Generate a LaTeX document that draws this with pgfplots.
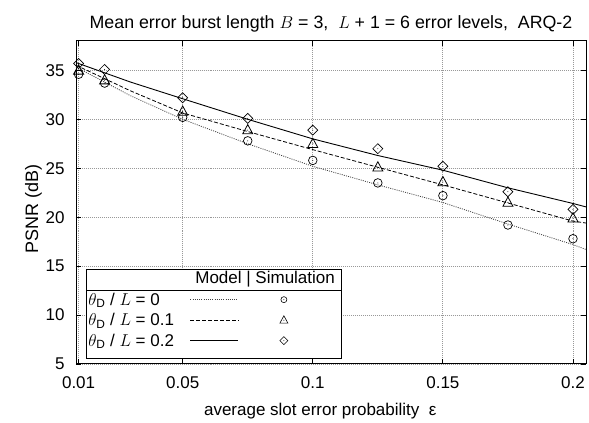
\documentclass[border=0pt]{standalone}
\usepackage{pgfplots}
\pgfplotsset{compat=1.18}
\usepackage{fontspec}
\setmainfont{Liberation Sans}
\usetikzlibrary{plotmarks}

\pgfdeclareplotmark{codot}{%
  \pgfpathcircle{\pgfpointorigin}{\pgfplotmarksize}\pgfusepathqstroke
  \pgfpathcircle{\pgfpointorigin}{0.5pt}\pgfusepathqfill}
\pgfdeclareplotmark{tdot}{%
  \pgfpathmoveto{\pgfqpoint{0pt}{1.1\pgfplotmarksize}}%
  \pgfpathlineto{\pgfqpoint{-1\pgfplotmarksize}{-0.75\pgfplotmarksize}}%
  \pgfpathlineto{\pgfqpoint{1\pgfplotmarksize}{-0.75\pgfplotmarksize}}%
  \pgfpathclose\pgfusepathqstroke
  \pgfpathcircle{\pgfpointorigin}{0.5pt}\pgfusepathqfill}
\pgfdeclareplotmark{ddot}{%
  \pgfpathmoveto{\pgfqpoint{0pt}{\pgfplotmarksize}}%
  \pgfpathlineto{\pgfqpoint{\pgfplotmarksize}{0pt}}%
  \pgfpathlineto{\pgfqpoint{0pt}{-\pgfplotmarksize}}%
  \pgfpathlineto{\pgfqpoint{-\pgfplotmarksize}{0pt}}%
  \pgfpathclose\pgfusepathqstroke
  \pgfpathcircle{\pgfpointorigin}{0.5pt}\pgfusepathqfill}

\newcommand{\dottedsample}{\tikz[baseline=-0.6ex]\draw[black!75, line width=0.8pt, dash pattern=on 1pt off 1.2pt] (0,0) -- (48bp,0);}
\newcommand{\dashedsample}{\tikz[baseline=-0.6ex]\draw[black, line width=0.8pt, dash pattern=on 4pt off 2pt] (0,0) -- (48bp,0);}
\newcommand{\solidsample}{\tikz[baseline=-0.6ex]\draw[black, line width=0.9pt] (0,0) -- (48bp,0);}
\newcommand{\marksample}[2]{\tikz[baseline=-0.6ex]{\pgfsetplotmarksize{#2}\pgfsetlinewidth{0.6pt}\pgfuseplotmark{#1}}}

\begin{document}
\begin{tikzpicture}[font=\fontsize{17bp}{20.5bp}\selectfont]
\begin{axis}[
  name=ax,
  scale only axis,
  width=510bp, height=323bp,
  xmin=0.009, xmax=0.205,
  ymin=5, ymax=38,
  xtick={0.01,0.05,0.1,0.15,0.2},
  xticklabels={0.01,0.05,0.1,0.15,0.2},
  ytick={5,10,15,20,25,30,35},
  /pgf/number format/assume math mode=true,
  tick align=inside,
  major tick length=5bp,
  tick style={black, line width=0.8pt},
  axis line style={line width=1pt},
  grid=major,
  major grid style={gray!80, line width=0.8pt, dash pattern=on 1pt off 1pt},
  xticklabel style={yshift=-9bp},
  yticklabel style={xshift=-8bp},
  xlabel={average slot error probability \ ε},
  ylabel={PSNR (dB)},
  xlabel style={at={(ticklabel cs:0.479)}, yshift=-8bp},
  ylabel style={at={(ticklabel cs:0.48)}, yshift=-3bp, font=\fontsize{18bp}{20bp}\selectfont},
  title={Mean error burst length $B$ = 3,\ \ $L$ + 1 = 6 error levels,\ \ ARQ-2},
  title style={yshift=-1bp, font=\fontsize{17.8bp}{20bp}\selectfont},
  clip=true,
]
% Model curves
\addplot[black!75, line width=0.8pt, dash pattern=on 1pt off 1.2pt] coordinates {
  (0.009,35.3) (0.01,35.2) (0.03,32.4) (0.05,30.0) (0.075,27.5) (0.1,25.2)
  (0.125,23.3) (0.15,21.5) (0.175,19.3) (0.2,17.2) (0.205,16.7)};
\addplot[black, line width=0.8pt, dash pattern=on 4pt off 2pt] coordinates {
  (0.009,35.5) (0.01,35.4) (0.03,32.9) (0.05,30.65) (0.075,28.75) (0.1,26.9)
  (0.125,25.1) (0.15,23.3) (0.175,21.45) (0.2,19.6) (0.205,19.4)};
\addplot[black, line width=0.9pt] coordinates {
  (0.009,35.8) (0.01,35.7) (0.03,33.8) (0.05,32.1) (0.075,30.0) (0.1,28.0)
  (0.125,26.3) (0.15,24.8) (0.175,23.0) (0.2,21.4) (0.205,21.05)};
% Simulation points
\addplot[only marks, mark=codot, mark size=4.3bp, mark options={black, line width=0.7pt}] coordinates {
  (0.01,34.6) (0.02,33.7) (0.05,30.2) (0.075,27.8) (0.1,25.8)
  (0.125,23.5) (0.15,22.2) (0.175,19.2) (0.2,17.8)};
\addplot[only marks, mark=tdot, mark size=5bp, mark options={black, line width=0.8pt}] coordinates {
  (0.01,35.0) (0.02,34.0) (0.05,30.8) (0.075,28.9) (0.1,27.5)
  (0.125,25.1) (0.15,23.6) (0.175,21.5) (0.2,19.9)};
\addplot[only marks, mark=ddot, mark size=5bp, mark options={black, line width=0.7pt}] coordinates {
  (0.01,35.7) (0.02,35.1) (0.05,32.2) (0.075,30.1) (0.1,28.9)
  (0.125,27.0) (0.15,25.2) (0.175,22.6) (0.2,20.8)};
\end{axis}
% Legend
\node[draw, fill=white, anchor=north west, inner sep=0pt, line width=0.8pt]
  at ([xshift=10bp,yshift=95bp]ax.south west) {%
  \setlength{\arrayrulewidth}{0.8pt}%
  \begin{tabular}{@{\hspace{2bp}}l@{\hspace{16bp}}c@{\hspace{41bp}}c@{\hspace{54bp}}}
  \multicolumn{3}{@{}r@{\hspace{7bp}}}{Model | Simulation}\\ \hline
  $\theta_{\mathrm{D}}$ / $L$ = 0 & \dottedsample & \marksample{codot}{3bp}\\
  $\theta_{\mathrm{D}}$ / $L$ = 0.1 & \dashedsample & \marksample{tdot}{4bp}\\
  \rule[-12.5bp]{0pt}{1bp}$\theta_{\mathrm{D}}$ / $L$ = 0.2 & \solidsample & \marksample{ddot}{4bp}\\
  \end{tabular}};
\path[use as bounding box] ([xshift=-76bp,yshift=-58bp]ax.south west) rectangle ([xshift=3bp,yshift=41bp]ax.north east);
\end{tikzpicture}
\end{document}
